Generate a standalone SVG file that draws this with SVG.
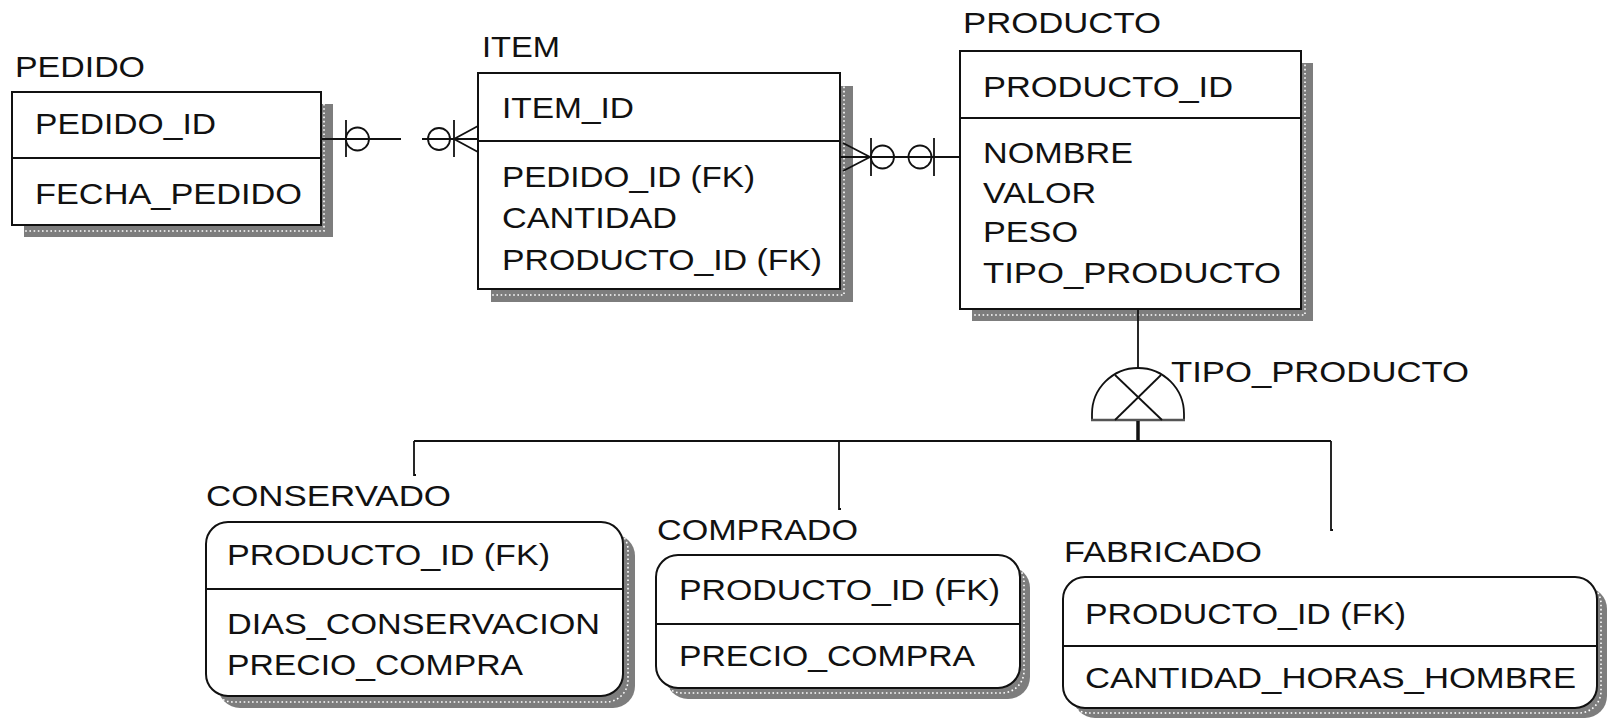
<svg xmlns="http://www.w3.org/2000/svg" width="1610" height="719" viewBox="0 0 1610 719">
  <style>
    text { font-family: "Liberation Sans", Arial, sans-serif; font-size: 30px; fill: #111; }
    .box { fill: #fff; stroke: #111; stroke-width: 2; }
    .div { stroke: #111; stroke-width: 2; }
    .shadow { fill: #7d7d7d; stroke: none; }
    .dots { fill: none; stroke: #fff; stroke-width: 1.6; stroke-dasharray: 1.6 2.6; }
    .ln { fill: none; stroke: #111; stroke-width: 1.8; }
    .thick { fill: none; stroke: #111; stroke-width: 3.5; }
  </style>

  <!-- PEDIDO -->
  <g id="pedido">
    <rect class="shadow" x="24" y="104" width="309" height="133"/>
    <rect class="dots" x="15" y="98" width="309" height="133"/>
    <rect class="box" x="12" y="92" width="309" height="133"/>
    <line class="div" x1="12" y1="158" x2="321" y2="158"/>
    <text x="15" y="77" textLength="130" lengthAdjust="spacingAndGlyphs">PEDIDO</text>
    <text x="35" y="134" textLength="181" lengthAdjust="spacingAndGlyphs">PEDIDO_ID</text>
    <text x="35" y="204" textLength="267" lengthAdjust="spacingAndGlyphs">FECHA_PEDIDO</text>
  </g>

  <!-- ITEM -->
  <g id="item">
    <rect class="shadow" x="491" y="86" width="362" height="216"/>
    <rect class="dots" x="482" y="79" width="362" height="216"/>
    <rect class="box" x="478" y="73" width="362" height="216"/>
    <line class="div" x1="478" y1="141" x2="840" y2="141"/>
    <text x="482" y="57" textLength="78" lengthAdjust="spacingAndGlyphs">ITEM</text>
    <text x="502" y="118" textLength="132" lengthAdjust="spacingAndGlyphs">ITEM_ID</text>
    <text x="502" y="187" textLength="253" lengthAdjust="spacingAndGlyphs">PEDIDO_ID (FK)</text>
    <text x="502" y="228" textLength="175" lengthAdjust="spacingAndGlyphs">CANTIDAD</text>
    <text x="502" y="270" textLength="320" lengthAdjust="spacingAndGlyphs">PRODUCTO_ID (FK)</text>
  </g>

  <!-- PRODUCTO -->
  <g id="producto">
    <rect class="shadow" x="972" y="63" width="341" height="258"/>
    <rect class="dots" x="964" y="57" width="341" height="258"/>
    <rect class="box" x="960" y="51" width="341" height="258"/>
    <line class="div" x1="960" y1="118" x2="1301" y2="118"/>
    <text x="963" y="33" textLength="198" lengthAdjust="spacingAndGlyphs">PRODUCTO</text>
    <text x="983" y="97" textLength="250" lengthAdjust="spacingAndGlyphs">PRODUCTO_ID</text>
    <text x="983" y="163" textLength="150" lengthAdjust="spacingAndGlyphs">NOMBRE</text>
    <text x="983" y="203" textLength="113" lengthAdjust="spacingAndGlyphs">VALOR</text>
    <text x="983" y="242" textLength="95" lengthAdjust="spacingAndGlyphs">PESO</text>
    <text x="983" y="283" textLength="298" lengthAdjust="spacingAndGlyphs">TIPO_PRODUCTO</text>
  </g>

  <!-- CONSERVADO -->
  <g id="conservado">
    <rect class="shadow" x="218" y="534" width="417" height="174" rx="22"/>
    <rect class="dots" x="211" y="528" width="417" height="174" rx="22"/>
    <rect class="box" x="206" y="522" width="417" height="174" rx="22"/>
    <line class="div" x1="206" y1="589" x2="623" y2="589"/>
    <text x="206" y="506" textLength="245" lengthAdjust="spacingAndGlyphs">CONSERVADO</text>
    <text x="227" y="565" textLength="323" lengthAdjust="spacingAndGlyphs">PRODUCTO_ID (FK)</text>
    <text x="227" y="634" textLength="373" lengthAdjust="spacingAndGlyphs">DIAS_CONSERVACION</text>
    <text x="227" y="675" textLength="296" lengthAdjust="spacingAndGlyphs">PRECIO_COMPRA</text>
  </g>

  <!-- COMPRADO -->
  <g id="comprado">
    <rect class="shadow" x="666" y="566" width="364" height="133" rx="22"/>
    <rect class="dots" x="660" y="560" width="364" height="133" rx="22"/>
    <rect class="box" x="656" y="555" width="364" height="133" rx="22"/>
    <line class="div" x1="656" y1="624" x2="1020" y2="624"/>
    <text x="657" y="540" textLength="201" lengthAdjust="spacingAndGlyphs">COMPRADO</text>
    <text x="679" y="600" textLength="321" lengthAdjust="spacingAndGlyphs">PRODUCTO_ID (FK)</text>
    <text x="679" y="666" textLength="296" lengthAdjust="spacingAndGlyphs">PRECIO_COMPRA</text>
  </g>

  <!-- FABRICADO -->
  <g id="fabricado">
    <rect class="shadow" x="1073" y="587" width="534" height="131" rx="22"/>
    <rect class="dots" x="1067" y="582" width="534" height="131" rx="22"/>
    <rect class="box" x="1063" y="577" width="534" height="131" rx="22"/>
    <line class="div" x1="1063" y1="646" x2="1597" y2="646"/>
    <text x="1064" y="562" textLength="198" lengthAdjust="spacingAndGlyphs">FABRICADO</text>
    <text x="1085" y="624" textLength="321" lengthAdjust="spacingAndGlyphs">PRODUCTO_ID (FK)</text>
    <text x="1085" y="688" textLength="491" lengthAdjust="spacingAndGlyphs">CANTIDAD_HORAS_HOMBRE</text>
  </g>

  <!-- Connectors, drawn over the shadows -->
  <g id="connectors">
    <!-- PEDIDO to ITEM: zero-or-one / zero-or-many -->
    <line class="ln" x1="321" y1="139" x2="401" y2="139"/>
    <line class="ln" x1="422" y1="139" x2="478" y2="139"/>
    <line class="ln" x1="346" y1="120" x2="346" y2="157"/>
    <circle class="ln" cx="357.5" cy="139" r="11.5"/>
    <circle class="ln" cx="439" cy="139" r="11"/>
    <line class="ln" x1="454" y1="120" x2="454" y2="157"/>
    <polyline class="ln" points="478,126 454,139 478,152"/>

    <!-- ITEM to PRODUCTO -->
    <line class="ln" x1="841" y1="157" x2="960" y2="157"/>
    <polyline class="ln" points="843,143 870,157 843,171"/>
    <line class="ln" x1="871" y1="138" x2="871" y2="176"/>
    <circle class="ln" cx="882.5" cy="157" r="11.5"/>
    <circle class="ln" cx="920" cy="157" r="11.5"/>
    <line class="ln" x1="934" y1="138" x2="934" y2="176"/>

    <!-- PRODUCTO subtype cluster -->
    <line class="ln" x1="1138" y1="309" x2="1138" y2="368"/>
    <path class="ln" d="M1092,420 L1092,414 A46,46 0 0 1 1184,414 L1184,420"/>
    <line x1="1091" y1="420" x2="1185" y2="420" stroke="#555" stroke-width="2.5"/>
    <line class="ln" x1="1115" y1="375" x2="1162" y2="420"/>
    <line class="ln" x1="1161" y1="375" x2="1115" y2="420"/>
    <line class="thick" x1="1138" y1="421" x2="1138" y2="441"/>
    <line class="ln" x1="414" y1="441" x2="1331" y2="441"/>
    <path class="ln" d="M414,441 V475 h2"/>
    <path class="ln" d="M839,441 V509 h2"/>
    <path class="ln" d="M1331,441 V530 h2"/>
    <text x="1171" y="382" textLength="298" lengthAdjust="spacingAndGlyphs">TIPO_PRODUCTO</text>
  </g>
</svg>
